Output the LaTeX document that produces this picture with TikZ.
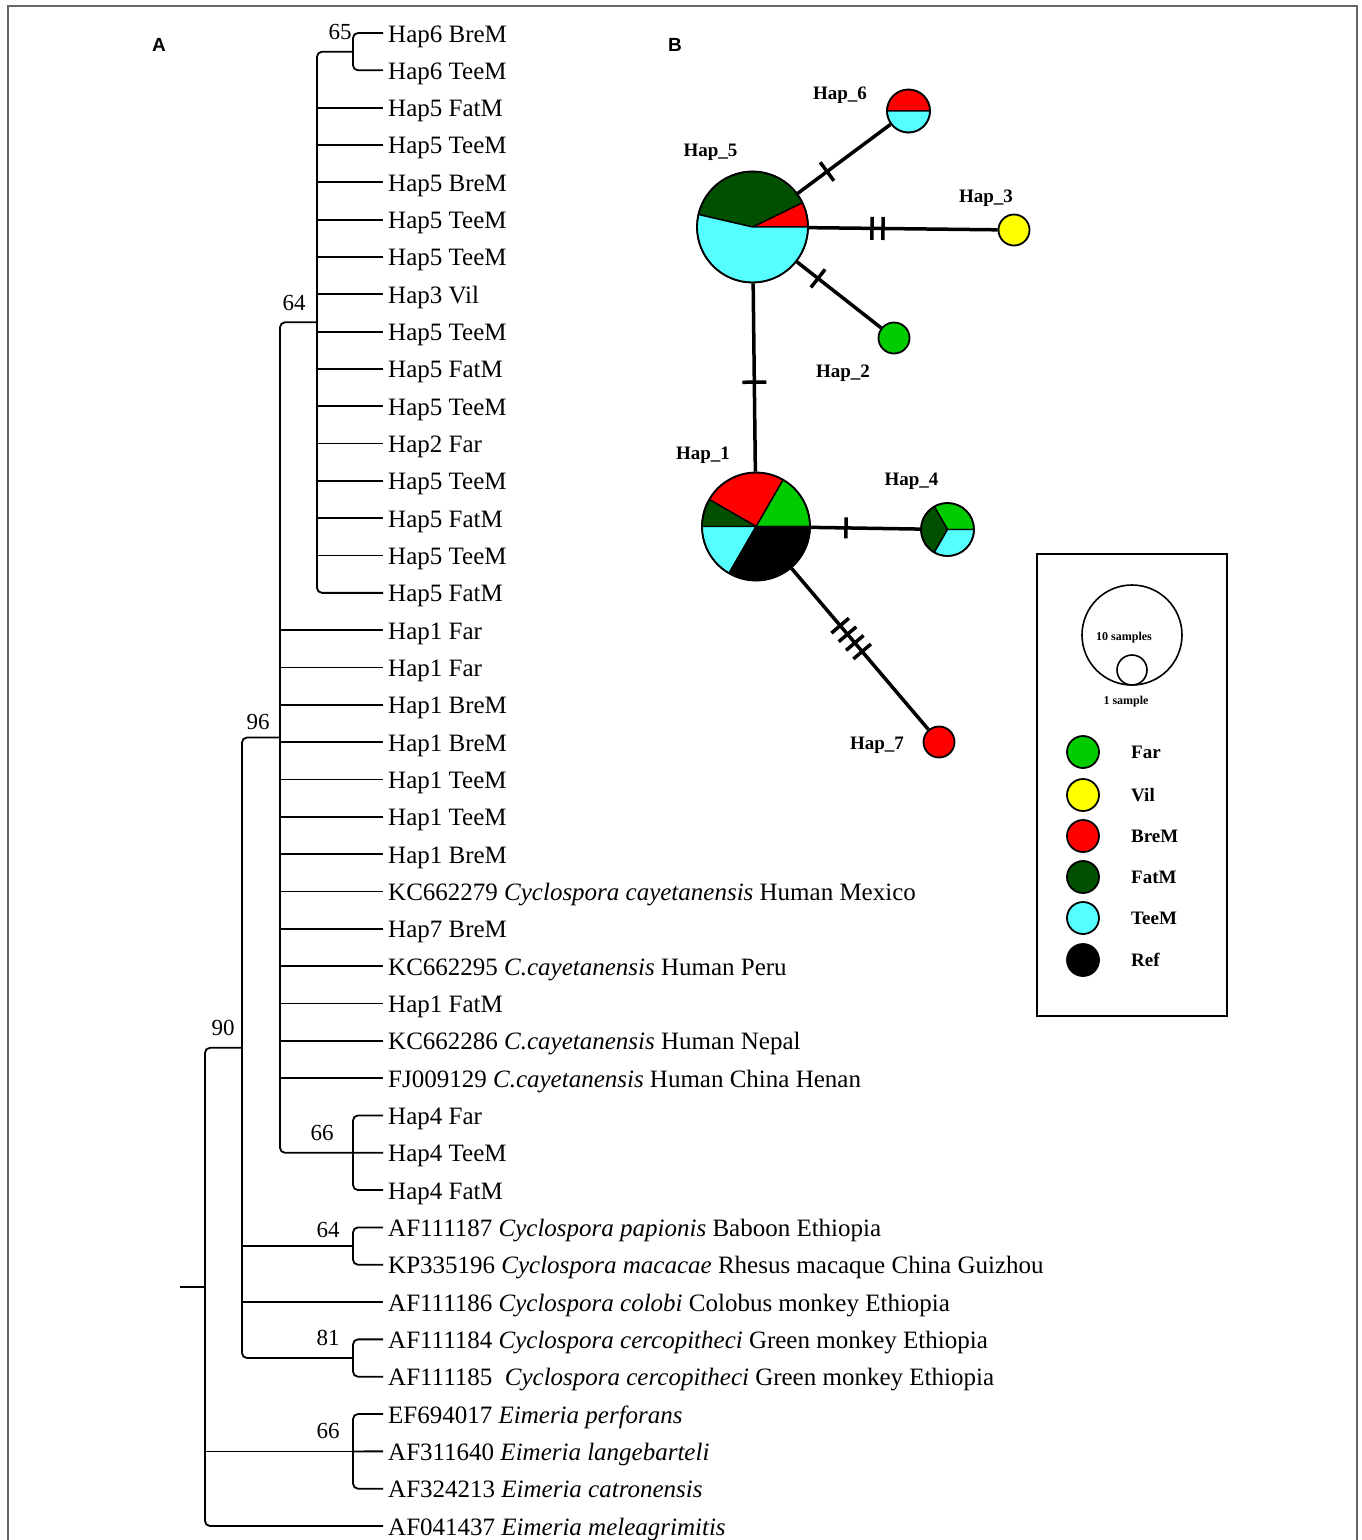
\documentclass[tikz,border=0pt]{standalone}
\usepackage{fontspec}
\setmainfont{Liberation Serif}
\setsansfont{Liberation Sans}
\usetikzlibrary{calc}
\definecolor{cgreen}{HTML}{00CC00}
\definecolor{cdark}{HTML}{005000}
\definecolor{ccyan}{HTML}{55FFFF}
\definecolor{cred}{HTML}{FF0000}
\definecolor{cyellow}{HTML}{FFFF00}
% center x, center y, radius, from angle, to angle, colour (visual angles, counter-clockwise)
\newcommand\mypie[6]{\filldraw[fill=#6, draw=black, line width=1.4pt, line join=round] (#1,#2) -- ++({-#4}:#3) arc[start angle={-#4}, end angle={-#5}, radius=#3] -- cycle;}
\begin{document}
\begin{tikzpicture}[x=1pt,y=-1pt,
  br/.style={line width=1.8pt, rounded corners=5pt},
  leaf/.style={anchor=west, inner xsep=5pt, inner ysep=0pt, text height=18pt, text depth=0pt, font=\fontsize{25}{30}\selectfont},
  boot/.style={font=\fontsize{23}{28}\selectfont, inner sep=0pt},
  hapc/.style={circle, draw=black, line width=1.8pt, inner sep=0pt},
  hapl/.style={font=\bfseries\fontsize{19}{22}\selectfont, inner sep=0pt},
  edge/.style={line width=3.5pt},
  tickm/.style={line width=3.5pt},
  legc/.style={circle, draw=black, line width=1.8pt, inner sep=0pt, minimum size=32pt},
  legt/.style={anchor=west, font=\bfseries\fontsize{19}{22}\selectfont, inner sep=0pt},
  panel/.style={font=\sffamily\bfseries\fontsize{19}{22}\selectfont, inner sep=0pt}]
\useasboundingbox (0,0) rectangle (1362,1540);
\fill[white] (0,0) rectangle (1362,1540);
\draw[black!60, line width=1.5pt] (8,6) rectangle (1357,1570);

\node[panel] (pA) at (159,45) {A};
\node[panel] (pB) at (675,45) {B};

% ---------------- tree leaves ----------------
\foreach \i/\t in {1/{Hap6 BreM},2/{Hap6 TeeM},3/{Hap5 FatM},4/{Hap5 TeeM},5/{Hap5 BreM},
  6/{Hap5 TeeM},7/{Hap5 TeeM},8/{Hap3 Vil},9/{Hap5 TeeM},10/{Hap5 FatM},11/{Hap5 TeeM},
  12/{Hap2 Far},13/{Hap5 TeeM},14/{Hap5 FatM},15/{Hap5 TeeM},16/{Hap5 FatM},
  17/{Hap1 Far},18/{Hap1 Far},19/{Hap1 BreM},20/{Hap1 BreM},21/{Hap1 TeeM},22/{Hap1 TeeM},
  23/{Hap1 BreM},24/{KC662279 \textit{Cyclospora cayetanensis} Human Mexico},
  25/{Hap7 BreM},26/{KC662295 \textit{C.cayetanensis} Human Peru},27/{Hap1 FatM},
  28/{KC662286 \textit{C.cayetanensis} Human Nepal},
  29/{FJ009129 \textit{C.cayetanensis} Human China Henan},
  30/{Hap4 Far},31/{Hap4 TeeM},32/{Hap4 FatM},
  33/{AF111187 \textit{Cyclospora papionis} Baboon Ethiopia},
  34/{KP335196 \textit{Cyclospora macacae} Rhesus macaque China Guizhou},
  35/{AF111186 \textit{Cyclospora colobi} Colobus monkey Ethiopia},
  36/{AF111184 \textit{Cyclospora cercopitheci} Green monkey Ethiopia},
  37/{AF111185\ \ \textit{Cyclospora cercopitheci} Green monkey Ethiopia},
  38/{EF694017 \textit{Eimeria perforans}},
  39/{AF311640 \textit{Eimeria langebarteli}},
  40/{AF324213 \textit{Eimeria catronensis}},
  41/{AF041437 \textit{Eimeria meleagrimitis}}}
  \node[leaf] (l\i) at (383,{33+(\i-1)*37.325}) {\t};

% ---------------- internal nodes ----------------
\coordinate (c65)  at (353,51.7);
\coordinate (c64)  at (317,322.3);
\coordinate (c66a) at (353,1152.8);
\coordinate (c96)  at (280,737.5);
\coordinate (c64b) at (353,1246.0);
\coordinate (c81)  at (353,1358.0);
\coordinate (c90)  at (242,1047.8);
\coordinate (c66b) at (353,1451.4);
\coordinate (croot) at (205,1286.9);
\coordinate (rstub) at (180,1286.9);

% clade 65
\draw[br] (l1.west) -| (c65) |- (l2.west);
% clade 64
\draw[br] (c65) -| (c64) |- (l16.west);
\foreach \i in {3,...,15} \draw[br] (l\i.west -| c64) -- (l\i.west);
% clade 66 (Hap4)
\draw[br] (l30.west) -| (c66a) |- (l32.west);
\draw[br] (c66a) -- (l31.west);
% clade 96
\draw[br] (c64) -| (c96) |- (c66a);
\foreach \i in {17,...,29} \draw[br] (l\i.west -| c96) -- (l\i.west);
% clade 64 (papionis)
\draw[br] (l33.west) -| (c64b) |- (l34.west);
% clade 81
\draw[br] (l36.west) -| (c81) |- (l37.west);
% clade 90
\draw[br] (c96) -| (c90) |- (c81);
\draw[br] (c64b -| c90) -- (c64b);
\draw[br] (l35.west -| c90) -- (l35.west);
% clade 66 (Eimeria)
\draw[br] (l38.west) -| (c66b) |- (l40.west);
\draw[br] (c66b) -- (l39.west);
% root
\draw[br] (c90) -| (croot) |- (l41.west);
\draw[br] (c66b -| croot) -- (c66b);
\draw[br] (rstub) -- (croot);

% bootstrap values
\node[boot] (b65) at (340,32) {65};
\node[boot] (b64) at (294,303) {64};
\node[boot] (b96) at (258,722) {96};
\node[boot] (b66a) at (322,1133) {66};
\node[boot] (b90) at (223,1028) {90};
\node[boot] (b64b) at (328,1230) {64};
\node[boot] (b81) at (328,1338) {81};
\node[boot] (b66b) at (328,1431) {66};

% ---------------- network ----------------
% pies
\mypie{752.5}{227}{55.5}{0}{26}{cred}
\mypie{752.5}{227}{55.5}{26}{167}{cdark}
\mypie{752.5}{227}{55.5}{167}{360}{ccyan}
\mypie{908.5}{111}{21.5}{0}{180}{cred}
\mypie{908.5}{111}{21.5}{180}{360}{ccyan}
\mypie{756}{526.5}{54}{0}{60}{cgreen}
\mypie{756}{526.5}{54}{60}{150}{cred}
\mypie{756}{526.5}{54}{150}{180}{cdark}
\mypie{756}{526.5}{54}{180}{240}{ccyan}
\mypie{756}{526.5}{54}{240}{360}{black}
\mypie{947.5}{529.5}{26.5}{0}{120}{cgreen}
\mypie{947.5}{529.5}{26.5}{120}{240}{cdark}
\mypie{947.5}{529.5}{26.5}{240}{360}{ccyan}

\node[hapc, minimum size=111pt] (h5) at (752.5,227) {};
\node[hapc, minimum size=43pt] (h6) at (908.5,111) {};
\node[hapc, minimum size=31pt, fill=cyellow] (h3) at (1014,230) {};
\node[hapc, minimum size=31pt, fill=cgreen] (h2) at (894,338) {};
\node[hapc, minimum size=108pt] (h1) at (756,526.5) {};
\node[hapc, minimum size=53pt] (h4) at (947.5,529.5) {};
\node[hapc, minimum size=31pt, fill=cred] (h7) at (939,742) {};

\draw[edge] (h5) -- (h6);
\draw[edge] (h5) -- (h3);
\draw[edge] (h5) -- (h2);
\draw[edge] (h5) -- (h1);
\draw[edge] (h1) -- (h4);
\draw[edge] (h1) -- (h7);

% mutation ticks
\coordinate (t56) at ($(h5.center)!0.478!(h6.center)$);
\coordinate (t53a) at ($(h5.center)!0.457!(h3.center)$);
\coordinate (t53b) at ($(h5.center)!0.499!(h3.center)$);
\coordinate (t52) at ($(h5.center)!0.463!(h2.center)$);
\coordinate (t51) at ($(h5.center)!0.518!(h1.center)$);
\coordinate (t14) at ($(h1.center)!0.47!(h4.center)$);
\coordinate (t17a) at ($(h1.center)!0.46!(h7.center)$);
\coordinate (t17b) at ($(h1.center)!0.50!(h7.center)$);
\coordinate (t17c) at ($(h1.center)!0.54!(h7.center)$);
\coordinate (t17d) at ($(h1.center)!0.58!(h7.center)$);
\draw[tickm] ($(t56)!11.5pt!90:(h6.center)$) -- ($(t56)!11.5pt!-90:(h6.center)$);
\draw[tickm] ($(t53a)!11.5pt!90:(h3.center)$) -- ($(t53a)!11.5pt!-90:(h3.center)$);
\draw[tickm] ($(t53b)!11.5pt!90:(h3.center)$) -- ($(t53b)!11.5pt!-90:(h3.center)$);
\draw[tickm] ($(t52)!11.5pt!90:(h2.center)$) -- ($(t52)!11.5pt!-90:(h2.center)$);
\draw[tickm] ($(t51)!12pt!90:(h1.center)$) -- ($(t51)!12pt!-90:(h1.center)$);
\draw[tickm] ($(t14)!10.5pt!90:(h4.center)$) -- ($(t14)!10.5pt!-90:(h4.center)$);
\foreach \t in {t17a,t17b,t17c,t17d}
  \draw[tickm] ($(\t)!11.5pt!90:(h7.center)$) -- ($(\t)!11.5pt!-90:(h7.center)$);

% haplotype labels
\node[hapl] (lh6) at (840,95) {Hap\_6};
\node[hapl] (lh5) at (710.5,152) {Hap\_5};
\node[hapl] (lh3) at (986,198) {Hap\_3};
\node[hapl] (lh2) at (843,373) {Hap\_2};
\node[hapl] (lh1) at (703,455) {Hap\_1};
\node[hapl] (lh4) at (911.5,481) {Hap\_4};
\node[hapl] (lh7) at (877,745) {Hap\_7};

% ---------------- legend ----------------
\draw[line width=1.8pt] (1037,554) rectangle (1227,1016);
\node[circle, draw=black, line width=1.6pt, inner sep=0pt, minimum size=100pt] (sz10) at (1132,635) {};
\node[circle, draw=black, line width=1.6pt, inner sep=0pt, minimum size=30pt] (sz1) at (1132,670) {};
\node[font=\bfseries\fontsize{12}{14}\selectfont, inner sep=0pt] (t10) at (1124,638) {10 samples};
\node[font=\bfseries\fontsize{12}{14}\selectfont, inner sep=0pt] (t1) at (1126,702) {1 sample};
\foreach \y/\c/\t in {752/cgreen/Far,795/cyellow/Vil,836/cred/BreM,877/cdark/FatM,918/ccyan/TeeM,960/black/Ref}{
  \node[legc, fill=\c] (lg\t) at (1083,\y) {};
  \node[legt] (lt\t) at (1131,\y) {\t};
}
\end{tikzpicture}
\end{document}
